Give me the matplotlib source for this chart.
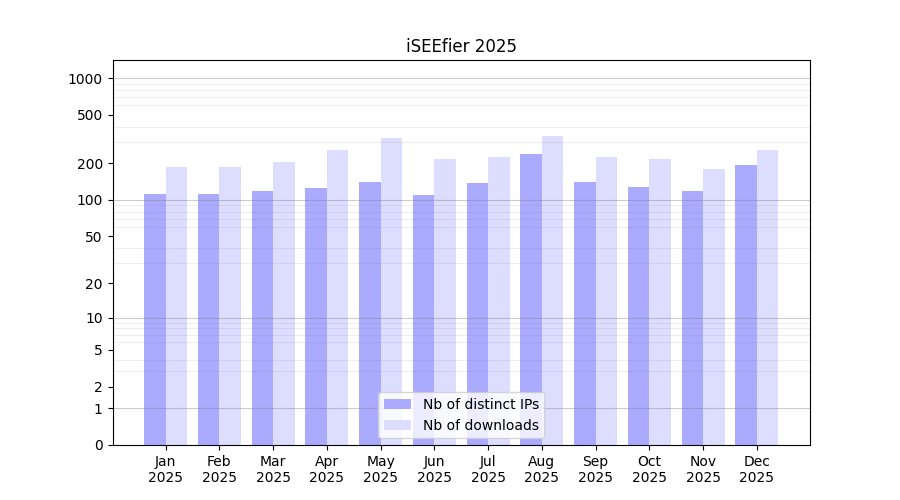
import numpy as np
import matplotlib
matplotlib.use("Agg")
import matplotlib.pyplot as plt

months = ["Jan", "Feb", "Mar", "Apr", "May", "Jun", "Jul", "Aug", "Sep", "Oct", "Nov", "Dec"]
year = "2025"
distinct_ips = [112, 112, 118, 125, 140, 110, 138, 238, 140, 128, 118, 194]
downloads = [187, 187, 205, 257, 323, 217, 225, 338, 225, 217, 180, 257]
ytick_vals = [0, 1, 2, 5, 10, 20, 50, 100, 200, 500, 1000]

fig, ax = plt.subplots(figsize=(9, 5), dpi=100)
ax.set_yscale("function", functions=(lambda v: np.log10(1 + np.clip(v, 0, None)),
                                     lambda v: 10 ** v - 1))
x = np.arange(len(months))
w = 0.4
ax.bar(x - w / 2, distinct_ips, width=w, color="#aaaaff", label="Nb of distinct IPs")
ax.bar(x + w / 2, downloads, width=w, color="#ddddff", label="Nb of downloads")

ax.set_ylim(0, 1406)
ax.set_yticks(ytick_vals)
ax.set_yticklabels([str(v) for v in ytick_vals])
minor = [m * 10 ** k for k in range(0, 3) for m in range(2, 10)]
ax.set_yticks(minor, minor=True)
ax.tick_params(axis="y", which="minor", length=0)
ax.grid(False)
ax.grid(True, axis="y", which="minor", color="gray", alpha=0.13, linewidth=0.8)
for d in [1, 10, 100, 1000]:
    ax.axhline(d, color="gray", alpha=0.4, linewidth=0.8, zorder=1.5)

ax.set_xticks(x)
ax.set_xticklabels([f"{m}\n{year}" for m in months])
ax.set_title("iSEEfier 2025")
ax.legend(loc="lower center")
fig.savefig("out.png")
